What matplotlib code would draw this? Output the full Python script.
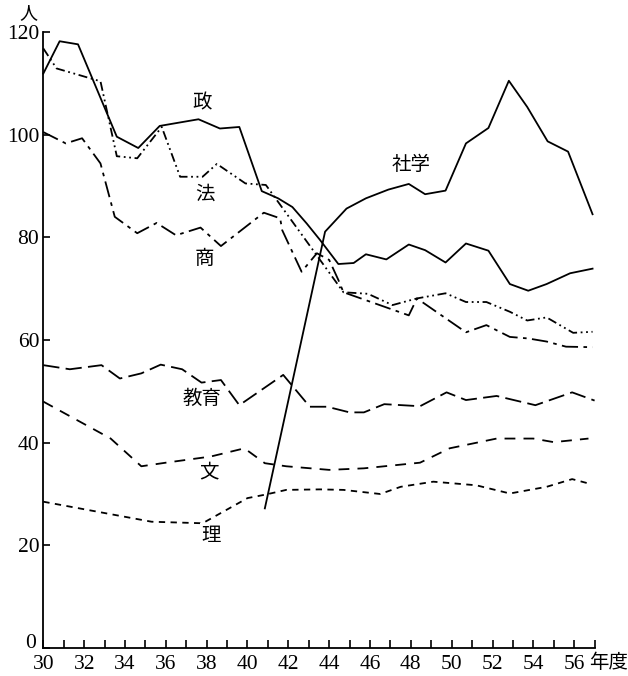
import matplotlib
matplotlib.use("Agg")
import matplotlib.pyplot as plt
import matplotlib.transforms as mtransforms

# ---- data ----
sei_x = [30.0, 30.8, 31.7, 33.6, 34.65, 35.7, 37.6, 38.65, 39.6, 40.7, 41.5, 42.2, 42.9, 43.55, 44.45,
         45.2, 45.8, 46.8, 47.9, 48.7, 49.7, 50.7, 51.8, 52.85, 53.75, 54.65, 55.8, 56.9]
sei_y = [111.9, 118.2, 117.6, 99.6, 97.4, 101.7, 103.0, 101.2, 101.5, 89.0, 87.6, 85.9, 82.7, 79.5, 74.8,
         75.0, 76.7, 75.7, 78.6, 77.5, 75.1, 78.8, 77.4, 70.9, 69.6, 70.9, 73.0, 73.9]

hou_x = [30.0, 30.65, 32.8, 33.6, 34.6, 35.8, 36.7, 37.8, 38.5, 39.9, 40.9, 41.5, 44.7,
         45.9, 47.1, 48.3, 49.7, 50.7, 51.7, 52.85, 53.7, 54.65, 55.95, 56.9]
hou_y = [116.8, 112.9, 110.4, 95.8, 95.4, 101.5, 91.8, 91.8, 94.3, 90.5, 90.2, 86.9, 69.3,
         69.0, 66.8, 68.1, 69.1, 67.4, 67.4, 65.5, 63.8, 64.4, 61.4, 61.6]

shou_x = [30.0, 31.1, 31.9, 32.8, 33.5, 34.6, 35.55, 36.5, 37.7, 38.7, 40.8, 41.6, 41.7, 42.65,
          43.4, 44.0, 44.45, 44.7, 47.9, 48.3, 50.7, 51.7, 52.85, 53.75, 54.65, 55.6, 56.9]
shou_y = [100.5, 98.3, 99.3, 94.4, 84.0, 80.8, 82.8, 80.4, 81.9, 78.3, 84.8, 83.7, 81.4, 73.3,
          76.9, 75.6, 71.7, 69.3, 64.8, 68.1, 61.5, 62.9, 60.6, 60.3, 59.7, 58.7, 58.6]

shagaku_x = [40.85, 43.8, 44.85, 45.8, 46.9, 47.9, 48.7, 49.7, 50.7, 51.8, 52.8, 53.7, 54.7, 55.7, 56.9]
shagaku_y = [27.2, 81.1, 85.6, 87.6, 89.3, 90.4, 88.4, 89.1, 98.3, 101.3, 110.5, 105.4, 98.7, 96.7, 84.5]

kyoiku_x = [30.0, 31.3, 32.85, 33.75, 34.8, 35.75, 36.8, 37.75, 38.7, 39.6, 41.75, 43.05, 43.9,
            45.0, 45.7, 46.7, 48.45, 49.75, 50.7, 52.2, 54.1, 55.9, 57.0]
kyoiku_y = [55.1, 54.3, 55.1, 52.5, 53.5, 55.2, 54.3, 51.7, 52.2, 47.3, 53.2, 47.0, 47.0,
            45.9, 45.9, 47.5, 47.1, 49.8, 48.3, 49.1, 47.3, 49.8, 48.2]

bun_x = [30.0, 33.3, 34.8, 36.0, 38.2, 39.85, 40.85, 41.9, 44.0, 45.7, 48.45, 49.9, 52.2, 54.0, 55.0, 56.7]
bun_y = [48.0, 40.8, 35.4, 36.1, 37.3, 38.9, 36.0, 35.4, 34.7, 35.0, 36.1, 38.9, 40.8, 40.8, 40.1, 40.8]

ri_x = [30.0, 35.3, 37.8, 40.0, 40.9, 41.9, 43.55, 44.7, 46.5, 47.5, 49.1, 51.2, 52.85, 54.65, 55.9, 56.85]
ri_y = [28.5, 24.6, 24.3, 29.2, 29.9, 30.8, 30.9, 30.8, 30.0, 31.4, 32.4, 31.7, 30.1, 31.4, 32.9, 31.9]

labels = ["政", "法", "商", "社学", "教育", "文", "理"]
label_x = [37.8, 37.9, 37.9, 48.0, 37.8, 38.1, 38.2]
label_y = [106.1, 88.4, 75.9, 94.1, 48.7, 34.3, 22.0]

x_major = list(range(30, 57, 2))
x_minor = list(range(30, 58))
y_ticks = [0, 20, 40, 60, 80, 100, 120]

# ---- figure ----
fig = plt.figure(figsize=(6.28, 6.76), dpi=100)
ax = fig.add_axes([43.3 / 628, 28 / 676, (594.6 - 43.3) / 628, (648 - 32) / 676])

lw = 1.3
c = "black"
ax.plot(sei_x, sei_y, color=c, lw=lw, ls="-", clip_on=False)
ax.plot(hou_x, hou_y, color=c, lw=lw, ls=(0, (5, 2, 1, 2, 1, 2)), clip_on=False)
ax.plot(shou_x, shou_y, color=c, lw=lw, ls=(0, (9, 3, 2, 3)), clip_on=False)
ax.plot(shagaku_x, shagaku_y, color=c, lw=lw, ls="-", clip_on=False)
ax.plot(kyoiku_x, kyoiku_y, color=c, lw=lw, ls=(0, (9, 3.5)), clip_on=False)
ax.plot(bun_x, bun_y, color=c, lw=lw, ls=(0, (6, 4.5)), clip_on=False)
ax.plot(ri_x, ri_y, color=c, lw=lw, ls=(0, (3.5, 3)), clip_on=False)

cjk = ["Noto Sans CJK JP", "DejaVu Sans"]
for t, lx, ly in zip(labels, label_x, label_y):
    ax.text(lx, ly, t, ha="center", va="center", fontsize=14, family=cjk,
            bbox=dict(facecolor="white", edgecolor="none", pad=1.0))

ax.set_xlim(30, 57)
ax.set_ylim(0, 120)
for s in ["top", "right"]:
    ax.spines[s].set_visible(False)
ax.spines["left"].set_linewidth(1.3)
ax.spines["bottom"].set_linewidth(1.3)

ax.set_xticks(x_major)
ax.set_xticks(x_minor, minor=True)
ax.set_yticks(y_ticks)
serif = "Liberation Serif"
ax.set_xticklabels([str(v) for v in x_major], fontsize=15.5, family=serif)
ax.set_yticklabels([str(v) for v in y_ticks], fontsize=15.5, family=serif)
ax.tick_params(axis="x", which="both", direction="in", length=6, width=1.2, pad=5)
ax.tick_params(axis="y", which="both", direction="in", length=5, width=1.2, pad=3)

# raise the "0" label a little so it clears the "30" label, as in the reference
zero_lab = ax.get_yticklabels()[0]
zero_lab.set_transform(zero_lab.get_transform() +
                       mtransforms.ScaledTranslation(-3 / 100, 7 / 100, fig.dpi_scale_trans))

fig.text(28 / 628, 1 - 13 / 676, "人", ha="center", va="center", fontsize=13, family=cjk)
fig.text(589 / 628, 1 - 663 / 676, "年度", ha="left", va="center", fontsize=14, family=cjk)

fig.savefig("out.png", dpi=100)
